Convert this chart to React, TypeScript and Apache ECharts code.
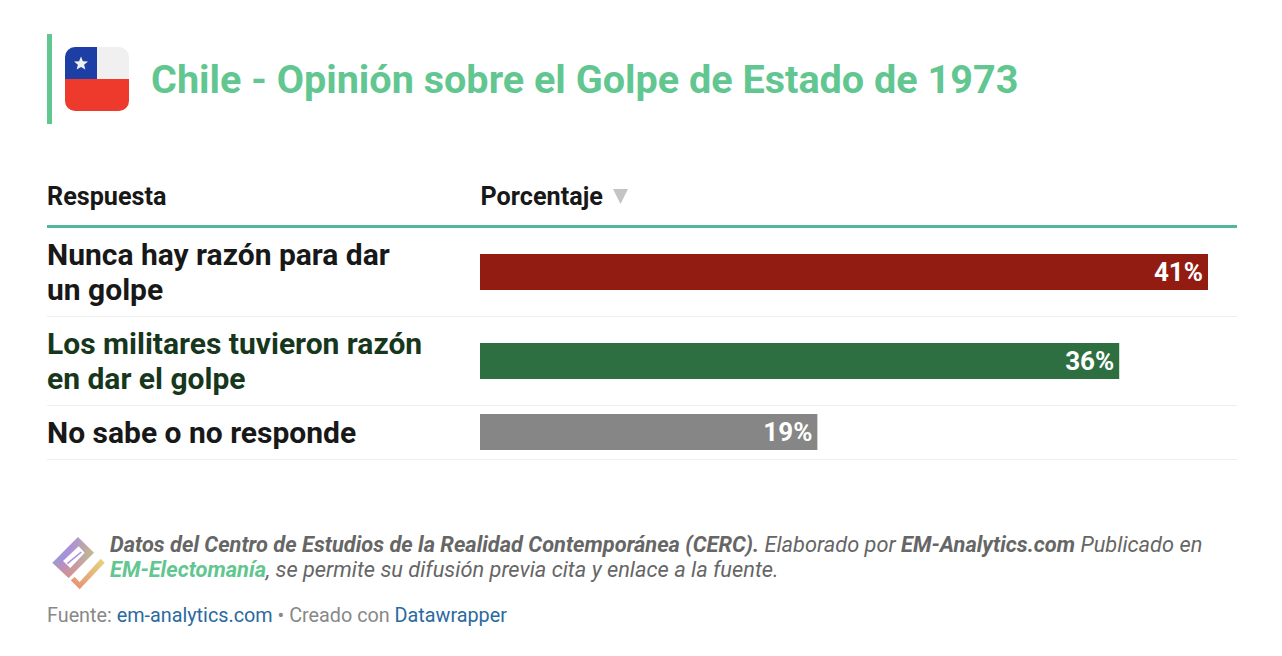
import React, { useEffect, useRef } from "react";
import * as echarts from "echarts";

const title = "Chile - Opinión sobre el Golpe de Estado de 1973";
const headerLabels = ["Respuesta", "Porcentaje"];
const categories = [
  ["Nunca hay razón para dar", "un golpe"],
  ["Los militares tuvieron razón", "en dar el golpe"],
  ["No sabe o no responde"],
];
const values = [41, 36, 19];
const barColors = ["#921c11", "#2e6f42", "#868686"];
const labelColors = ["#181818", "#17371d", "#181818"];
const FONT = "Roboto";

echarts.graphic.registerShape(
  "flagTop",
  echarts.graphic.extendPath(
    "M0 32V10A10 10 0 0 1 10 0H54A10 10 0 0 1 64 10V32Z",
    {},
  ),
);
echarts.graphic.registerShape(
  "flagBlue",
  echarts.graphic.extendPath("M0 32V10A10 10 0 0 1 10 0H32V32Z", {}),
);
echarts.graphic.registerShape(
  "flagBottom",
  echarts.graphic.extendPath(
    "M0 32H64V54A10 10 0 0 1 54 64H10A10 10 0 0 1 0 54Z",
    {},
  ),
);

const text = (
  x: number,
  y: number,
  t: string,
  size: number,
  fill: string,
  weight: any = 400,
  style: any = "normal",
) => ({
  type: "text",
  x,
  y,
  silent: true,
  style: {
    text: t,
    fontFamily: FONT,
    fontSize: size,
    fontWeight: weight,
    fontStyle: style,
    fill,
    verticalAlign: "middle",
  },
});

const rule = (y: number, h: number, fill: string) => ({
  type: "rect",
  shape: { x: 47, y, width: 1190, height: h },
  style: { fill },
});

const rowTops = [254, 343, 414];

export default function App() {
  const ref = useRef<HTMLDivElement>(null);
  useEffect(() => {
    document.body.style.margin = "0";
    document.body.style.background = "#fff";
    const chart = echarts.init(ref.current!, undefined, { renderer: "svg" });
    const grids = values.map((_, i) => ({
      left: 480,
      top: rowTops[i],
      width: 728,
      height: 36,
      containLabel: false,
    }));
    const xAxes = values.map((_, i) => ({
      type: "value",
      gridIndex: i,
      min: 0,
      max: 41,
      show: false,
    }));
    const yAxes = values.map((_, i) => ({
      type: "category",
      gridIndex: i,
      data: [categories[i].join(" ")],
      show: false,
    }));
    const series = values.map((v, i) => ({
      type: "bar",
      xAxisIndex: i,
      yAxisIndex: i,
      data: [v],
      barWidth: 36,
      itemStyle: { color: barColors[i] },
      label: {
        show: true,
        position: "insideRight",
        distance: 5,
        formatter: "{c}%",
        color: "#fff",
        fontFamily: FONT,
        fontSize: 26,
        fontWeight: 700,
      },
      silent: true,
    }));
    const logoGradient = new echarts.graphic.LinearGradient(0, 0.3, 1, 0.6, [
      { offset: 0, color: "#7fa8d4" },
      { offset: 0.35, color: "#a98fdc" },
      { offset: 0.7, color: "#bda8a8" },
      { offset: 1, color: "#c4c080" },
    ]);
    const bodyPoints = [[78, 537], [94, 552.7], [68.7, 578], [52.3, 562.7]];
    const graphic = [
      { type: "rect", shape: { x: 47, y: 34, width: 5, height: 90 }, style: { fill: "#62c690" } },
      { type: "flagTop", x: 65, y: 47, style: { fill: "#f0f0f0" } },
      { type: "flagBlue", x: 65, y: 47, style: { fill: "#1d3fa5" } },
      { type: "flagBottom", x: 65, y: 47, style: { fill: "#ee3a2c" } },
      {
        type: "polygon",
        shape: {
          points: [
            [81, 56.5], [82.9, 61.2], [88, 61.5], [84.1, 64.7], [85.4, 69.6],
            [81, 66.9], [76.6, 69.6], [77.9, 64.7], [74, 61.5], [79.1, 61.2],
          ],
        },
        style: { fill: "#f0f0f0" },
      },
      text(151, 79, title, 39.6, "#62c690", 700),
      text(47, 196.5, headerLabels[0], 25.2, "#181818", 700),
      text(480.5, 196.5, headerLabels[1], 25.2, "#181818", 700),
      {
        type: "polygon",
        shape: { points: [[613, 189], [628, 189], [620.5, 204]] },
        style: { fill: "#c4c4c4" },
      },
      rule(225, 3, "#52b69b"),
      rule(316, 1, "#eeeeee"),
      rule(405, 1, "#eeeeee"),
      rule(459, 1, "#eeeeee"),
      text(47, 254, categories[0][0], 30, labelColors[0], 700),
      text(47, 289, categories[0][1], 30, labelColors[0], 700),
      text(47, 343, categories[1][0], 30, labelColors[1], 700),
      text(47, 378, categories[1][1], 30, labelColors[1], 700),
      text(47, 432, categories[2][0], 30, labelColors[2], 700),
      { type: "polygon", shape: { points: bodyPoints }, style: { fill: logoGradient } },
      {
        type: "polygon",
        shape: { points: bodyPoints },
        style: {
          fill: new echarts.graphic.LinearGradient(0, 0, 0, 1, [
            { offset: 0.5, color: "rgba(232,140,120,0)" },
            { offset: 1, color: "rgba(232,140,120,0.7)" },
          ]),
        },
      },
      {
        type: "polygon",
        shape: { points: [[78.7, 546.3], [84.7, 552.7], [70.3, 568], [63, 561]] },
        style: { fill: "#ffffff" },
      },
      {
        type: "line",
        shape: { x1: 67.3, y1: 563.7, x2: 81.3, y2: 552 },
        style: { stroke: "#a98fdc", lineWidth: 1.5 },
      },
      {
        type: "polygon",
        shape: {
          points: [
            [100.7, 558.7], [104.7, 562.7], [79.7, 589.3], [70.7, 580.3], [74.7, 577], [79.7, 582],
          ],
        },
        style: {
          fill: new echarts.graphic.LinearGradient(1, 0, 0, 1, [
            { offset: 0, color: "#e6d67a" },
            { offset: 1, color: "#e88b78" },
          ]),
        },
      },
      {
        type: "text",
        x: 110,
        y: 544,
        silent: true,
        style: {
          text: "{b|Datos del Centro de Estudios de la Realidad Contemporánea (CERC).} Elaborado por {b|EM-Analytics.com} Publicado en",
          rich: {
            b: { fontWeight: 700, fontStyle: "italic", fontFamily: FONT, fontSize: 21.8, fill: "#666666" },
          },
          fontFamily: FONT,
          fontSize: 21.8,
          fontStyle: "italic",
          fill: "#666666",
          verticalAlign: "middle",
        },
      },
      {
        type: "text",
        x: 110,
        y: 569,
        silent: true,
        style: {
          text: "{g|EM-Electomanía}, se permite su difusión previa cita y enlace a la fuente.",
          rich: {
            g: { fontWeight: 700, fontStyle: "italic", fontFamily: FONT, fontSize: 21.8, fill: "#62c690" },
          },
          fontFamily: FONT,
          fontSize: 21.8,
          fontStyle: "italic",
          fill: "#666666",
          verticalAlign: "middle",
        },
      },
      {
        type: "text",
        x: 47,
        y: 615,
        silent: true,
        style: {
          text: "Fuente: {l|em-analytics.com} • Creado con {l|Datawrapper}",
          rich: {
            l: { fontFamily: FONT, fontSize: 19.8, fill: "#2a6a9e" },
          },
          fontFamily: FONT,
          fontSize: 19.8,
          fill: "#888888",
          verticalAlign: "middle",
        },
      },
    ];
    chart.setOption({
      animation: false,
      backgroundColor: "#ffffff",
      grid: grids,
      xAxis: xAxes,
      yAxis: yAxes,
      series,
      graphic: { elements: graphic },
    });
    return () => chart.dispose();
  }, []);
  return <div ref={ref} style={{ width: 1282, height: 656 }} />;
}
